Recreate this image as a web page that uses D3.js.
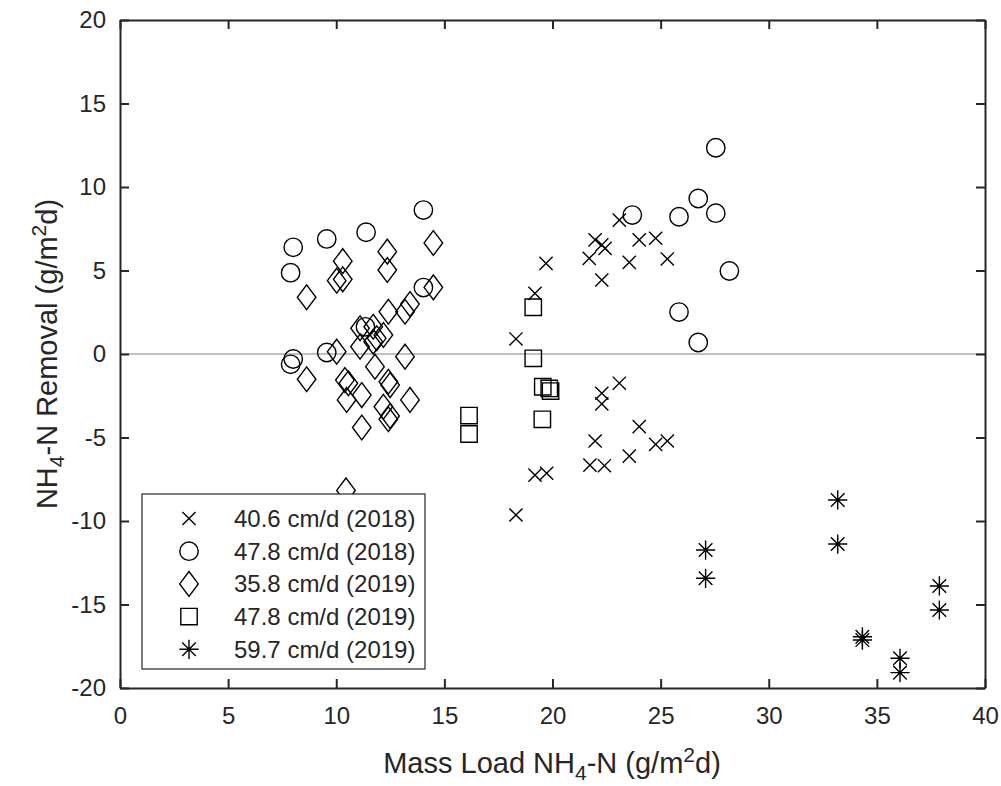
<!DOCTYPE html>
<html>
<head>
<meta charset="utf-8">
<script src="https://cdn.jsdelivr.net/npm/d3@7"></script>
<style>
  html, body { margin: 0; padding: 0; background: #fff; }
  svg { display: block; }
  text { font-family: "Liberation Sans", Arial, Helvetica, sans-serif; fill: #262626; }
</style>
</head>
<body>
<svg id="chart" width="1001" height="786"></svg>
<script>
// ---- data ----
const xTicks = [0, 5, 10, 15, 20, 25, 30, 35, 40];
const yTicks = [-20, -15, -10, -5, 0, 5, 10, 15, 20];

const seriesNames = ["40.6 cm/d (2018)", "47.8 cm/d (2018)", "35.8 cm/d (2019)", "47.8 cm/d (2019)", "59.7 cm/d (2019)"];
const seriesMarkers = ["x", "circle", "diamond", "square", "asterisk"];

const crossX = [18.31, 19.19, 19.70, 19.19, 19.73, 18.31, 23.09, 21.97, 22.28, 22.43, 21.70, 22.28, 24.01, 24.77, 23.55, 25.31, 23.09, 22.28, 22.28, 24.01, 21.97, 24.77, 25.31, 23.55, 21.73, 22.40];
const crossY = [0.90, 3.63, 5.43, -7.25, -7.14, -9.64, 8.02, 6.83, 6.53, 6.33, 5.73, 4.43, 6.83, 6.93, 5.49, 5.69, -1.75, -2.35, -2.99, -4.35, -5.21, -5.41, -5.21, -6.11, -6.65, -6.69];

const circleX = [7.89, 8.01, 7.89, 8.01, 9.56, 9.56, 11.38, 11.35, 14.03, 14.03, 23.69, 25.85, 26.74, 27.55, 27.55, 28.18, 25.85, 26.74];
const circleY = [4.87, 6.39, -0.62, -0.30, 6.89, 0.09, 7.29, 1.63, 8.62, 3.98, 8.32, 8.22, 9.31, 8.43, 12.35, 4.97, 2.51, 0.69];

const diamondX = [8.63, 10.02, 10.30, 10.30, 12.36, 12.36, 14.49, 14.49, 12.41, 13.18, 13.41, 11.10, 11.71, 12.18, 11.87, 11.71, 11.10, 10.02, 13.18, 11.79, 8.63, 10.40, 10.56, 10.48, 11.18, 12.41, 12.49, 13.41, 12.18, 12.49, 12.41, 11.18, 10.45];
const diamondY = [3.40, 4.39, 4.47, 5.56, 6.13, 5.03, 6.65, 3.99, 2.53, 2.53, 2.99, 1.54, 1.63, 1.14, 0.94, 0.74, 0.44, 0.14, -0.16, -0.76, -1.51, -1.56, -1.75, -2.75, -2.46, -1.66, -1.86, -2.75, -3.16, -3.71, -3.91, -4.40, -8.17];

const squareX = [19.11, 19.11, 19.55, 19.85, 19.91, 19.53, 16.14, 16.14];
const squareY = [2.80, -0.26, -1.96, -2.06, -2.22, -3.91, -3.69, -4.79];

const asteriskX = [33.19, 33.19, 27.08, 27.08, 37.89, 37.89, 34.33, 34.33, 36.07, 36.07];
const asteriskY = [-8.74, -11.38, -11.74, -13.43, -13.89, -15.33, -16.93, -17.13, -18.22, -19.08];

(function () {
const seriesX = [crossX, circleX, diamondX, squareX, asteriskX];
const seriesY = [crossY, circleY, diamondY, squareY, asteriskY];
const series = seriesNames.map((name, i) => ({
  name, marker: seriesMarkers[i],
  points: seriesX[i].map((xv, j) => ({ x: xv, y: seriesY[i][j] }))
}));

const svg = d3.select("#chart");
const pLeft = 120, pRight = 985, pTop = 20, pBottom = 688;
const x = d3.scaleLinear().domain([0, 40]).range([pLeft, pRight]);
const y = d3.scaleLinear().domain([-20, 20]).range([pBottom, pTop]);

const axisColor = "#262626";
const fmt = d => String(d);

function markerPath(type) {
  const p = d3.path();
  if (type === "x") {
    const s = 6.6;
    p.moveTo(-s, -s); p.lineTo(s, s); p.moveTo(-s, s); p.lineTo(s, -s);
  } else if (type === "circle") {
    const r = 9.2;
    p.moveTo(r, 0); p.arc(0, 0, r, 0, 2 * Math.PI);
  } else if (type === "diamond") {
    const w = 9.3, h = 12.4;
    p.moveTo(0, -h); p.lineTo(w, 0); p.lineTo(0, h); p.lineTo(-w, 0); p.closePath();
  } else if (type === "square") {
    const s = 8.2;
    p.rect(-s, -s, 2 * s, 2 * s);
  } else if (type === "asterisk") {
    const s = 9.6, d = 6.8;
    p.moveTo(0, -s); p.lineTo(0, s);
    p.moveTo(-s, 0); p.lineTo(s, 0);
    p.moveTo(-d, -d); p.lineTo(d, d);
    p.moveTo(-d, d); p.lineTo(d, -d);
  }
  return p.toString();
}

svg.append("line")
  .attr("x1", x(0)).attr("x2", x(40))
  .attr("y1", y(0)).attr("y2", y(0))
  .attr("stroke", "#808080").attr("stroke-width", 1.2);

const gMarks = svg.append("g");
series.forEach(s => {
  const g = gMarks.append("g");
  g.selectAll("path").data(s.points).join("path")
    .attr("transform", d => `translate(${x(d.x)},${y(d.y)})`)
    .attr("d", markerPath(s.marker))
    .attr("fill", "none")
    .attr("stroke", "#000")
    .attr("stroke-width", 1.4);
  if (s.marker === "asterisk") {
    g.selectAll("circle").data(s.points).join("circle")
      .attr("cx", d => x(d.x)).attr("cy", d => y(d.y)).attr("r", 1.6).attr("fill", "#000");
  }
});

function styleAxis(g, showLabels) {
  g.selectAll(".domain").attr("stroke", axisColor).attr("stroke-width", 2);
  g.selectAll(".tick line").attr("stroke", axisColor).attr("stroke-width", 2);
  g.selectAll(".tick text").attr("fill", axisColor)
    .style("font-size", "24px")
    .style("font-family", '"Liberation Sans", Arial, Helvetica, sans-serif');
  if (!showLabels) g.selectAll(".tick text").remove();
}

const gx = svg.append("g").attr("transform", `translate(0,${pBottom})`)
  .call(d3.axisBottom(x).tickValues(xTicks).tickFormat(fmt).tickSizeInner(-9).tickSizeOuter(0).tickPadding(19));
styleAxis(gx, true);
const gxt = svg.append("g").attr("transform", `translate(0,${pTop})`)
  .call(d3.axisTop(x).tickValues(xTicks).tickSizeInner(-9).tickSizeOuter(0));
styleAxis(gxt, false);
const gy = svg.append("g").attr("transform", `translate(${pLeft},0)`)
  .call(d3.axisLeft(y).tickValues(yTicks).tickFormat(fmt).tickSizeInner(-9).tickSizeOuter(0).tickPadding(14));
styleAxis(gy, true);
const gyr = svg.append("g").attr("transform", `translate(${pRight},0)`)
  .call(d3.axisRight(y).tickValues(yTicks).tickSizeInner(-9).tickSizeOuter(0));
styleAxis(gyr, false);

// axis labels
const xl = svg.append("text")
  .attr("x", 552).attr("y", 773)
  .attr("text-anchor", "middle")
  .style("font-size", "29px");
xl.append("tspan").text("Mass Load NH");
xl.append("tspan").attr("dy", 7).style("font-size", "21px").text("4");
xl.append("tspan").attr("dy", -7).text("-N (g/m");
xl.append("tspan").attr("dy", -11).style("font-size", "21px").text("2");
xl.append("tspan").attr("dy", 11).text("d)");

const yl = svg.append("text")
  .attr("transform", `translate(57,${(pTop + pBottom) / 2}) rotate(-90)`)
  .attr("text-anchor", "middle")
  .style("font-size", "29px");
yl.append("tspan").text("NH");
yl.append("tspan").attr("dy", 7).style("font-size", "21px").text("4");
yl.append("tspan").attr("dy", -7).text("-N Removal (g/m");
yl.append("tspan").attr("dy", -11).style("font-size", "21px").text("2");
yl.append("tspan").attr("dy", 11).text("d)");

// legend
const lg = svg.append("g");
const lgLeft = 142, lgRight = 425, lgTop = 494, lgBottom = 669;
lg.append("rect")
  .attr("x", lgLeft).attr("y", lgTop)
  .attr("width", lgRight - lgLeft).attr("height", lgBottom - lgTop)
  .attr("fill", "#fff").attr("stroke", axisColor).attr("stroke-width", 1.2);
const rowY = d3.scalePoint().domain(seriesNames).range([518.5, 649.3]);
series.forEach(s => {
  const cy = rowY(s.name);
  lg.append("path")
    .attr("transform", `translate(189,${cy})`)
    .attr("d", markerPath(s.marker))
    .attr("fill", "none").attr("stroke", "#000").attr("stroke-width", 1.4);
  if (s.marker === "asterisk") {
    lg.append("circle").attr("cx", 189).attr("cy", cy).attr("r", 1.6).attr("fill", "#000");
  }
  lg.append("text")
    .attr("x", 234).attr("y", cy).attr("dy", "0.35em")
    .style("font-size", "24px")
    .text(s.name);
});
})();
</script>
</body>
</html>
